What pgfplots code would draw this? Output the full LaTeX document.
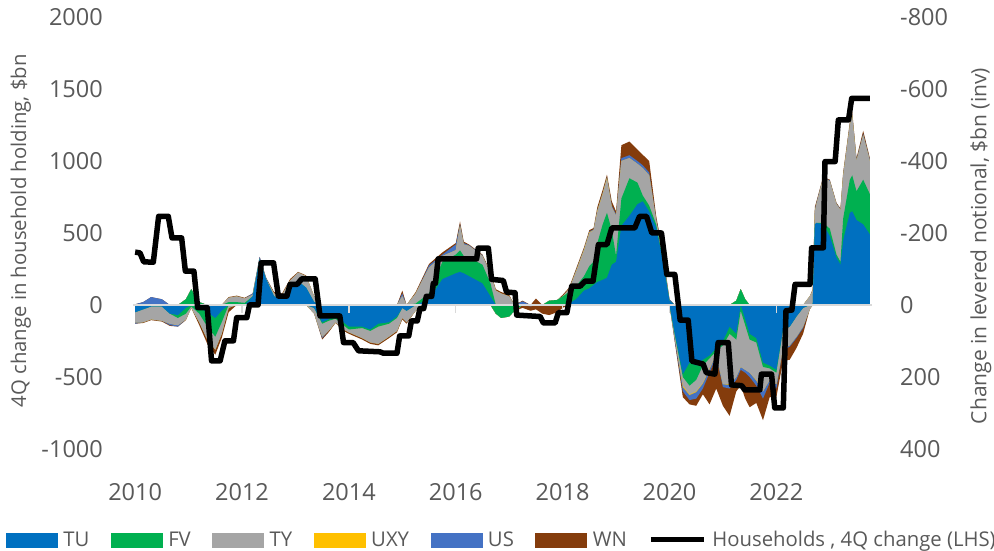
\documentclass[border=0pt]{standalone}
\usepackage{pgfplots}
\pgfplotsset{compat=1.18}
\usepgfplotslibrary{fillbetween}
\usepackage{pgfplotstable}
\usepackage{fontspec}
\setmainfont{Open Sans}
\definecolor{cTU}{HTML}{0070C0}
\definecolor{cFV}{HTML}{00B050}
\definecolor{cTY}{HTML}{A5A5A5}
\definecolor{cUXY}{HTML}{FFC000}
\definecolor{cUS}{HTML}{4472C4}
\definecolor{cWN}{HTML}{843C0C}
\definecolor{txt}{HTML}{595959}
\definecolor{zero}{HTML}{D9D9D9}

% cumulative band edges (LHS units): P = positive side, N = negative side
\pgfplotstableread{
t P1 P2 P3 P4 P5 P6 N1 N2 N3 N4 N5 N6
2010.00 0 0 0 0 5 5 -50 -50 -120 -120 -130 -130
2010.15 0 0 0 0 20 20 -30 -30 -120 -120 -120 -125
2010.30 0 0 0 0 55 55 -10 -10 -100 -100 -100 -105
2010.50 0 0 0 0 40 40 -10 -10 -110 -110 -110 -115
2010.65 0 0 0 0 0 0 -60 -60 -130 -130 -140 -145
2010.80 0 0 0 0 0 0 -70 -90 -140 -140 -150 -150
2010.95 0 40 40 40 40 40 -20 -60 -100 -100 -100 -105
2011.05 0 110 110 110 110 110 0 -10 -20 -20 -20 -20
2011.20 0 20 20 20 20 20 -20 -60 -120 -120 -120 -140
2011.35 0 0 0 0 0 0 -50 -150 -240 -240 -240 -270
2011.50 0 0 0 0 0 0 -90 -220 -310 -310 -310 -345
2011.62 0 0 0 0 0 0 -40 -120 -200 -200 -200 -230
2011.75 0 20 50 50 50 55 0 0 -20 -20 -20 -50
2011.90 0 20 60 60 60 65 0 0 0 0 0 0
2012.05 0 15 45 45 45 50 0 0 0 0 0 0
2012.20 60 60 70 70 80 80 0 0 0 0 0 0
2012.33 320 320 320 320 335 335 0 0 0 0 0 0
2012.45 180 180 180 180 190 190 0 0 0 0 0 0
2012.60 60 60 80 80 80 90 0 0 0 0 0 0
2012.75 40 45 70 70 70 80 0 0 0 0 0 0
2012.90 110 110 170 170 170 180 0 0 0 0 0 0
2013.05 165 165 225 225 225 230 0 0 0 0 0 0
2013.20 120 120 200 200 200 205 0 0 0 0 0 0
2013.35 20 20 60 60 60 60 -20 -20 -60 -60 -60 -60
2013.50 0 0 0 0 0 0 -120 -130 -220 -220 -230 -240
2013.62 0 0 0 0 0 0 -100 -110 -180 -180 -180 -190
2013.75 0 0 0 0 0 0 -80 -95 -120 -120 -120 -125
2013.90 0 0 0 0 0 0 -120 -140 -170 -170 -170 -180
2014.00 0 0 0 0 0 0 -150 -170 -190 -190 -190 -200
2014.25 0 0 0 0 0 0 -150 -160 -230 -230 -230 -240
2014.40 0 0 0 0 0 0 -170 -180 -260 -260 -260 -270
2014.55 0 0 0 0 0 0 -130 -150 -270 -270 -270 -280
2014.75 0 0 0 0 0 0 -120 -130 -220 -220 -220 -230
2014.90 0 0 0 0 0 0 -80 -90 -180 -180 -180 -190
2015.00 0 0 60 60 80 100 -20 -20 -90 -90 -90 -100
2015.08 0 0 0 0 0 0 -40 -40 -120 -120 -120 -130
2015.25 0 10 80 80 80 90 0 0 -40 -40 -40 -40
2015.50 40 80 260 260 275 285 0 0 0 0 0 0
2015.75 180 300 340 340 350 365 0 0 0 0 0 0
2016.00 220 350 380 380 420 430 0 0 0 0 0 0
2016.08 230 380 550 550 560 580 0 0 0 0 0 0
2016.15 220 340 420 420 430 440 0 0 0 0 0 0
2016.25 200 330 410 410 415 420 0 0 0 0 0 0
2016.50 150 280 340 340 345 350 0 0 0 0 0 0
2016.65 60 150 220 220 220 230 0 0 0 0 0 0
2016.75 0 0 100 100 100 110 0 -60 -60 -60 -60 -60
2016.85 0 0 80 80 80 90 0 -90 -90 -90 -90 -90
2017.00 0 0 60 60 60 70 0 -80 -80 -80 -80 -80
2017.10 0 0 0 0 0 0 0 -40 -40 -40 -40 -40
2017.25 0 0 0 0 25 30 0 0 0 0 0 -20
2017.40 0 0 0 0 0 0 0 0 0 0 -10 -40
2017.50 0 0 0 0 0 45 0 0 0 0 0 -30
2017.62 0 0 0 0 0 0 0 0 0 0 0 -60
2017.75 0 30 30 30 30 30 0 0 0 0 0 -70
2017.90 0 35 35 35 35 35 0 0 0 0 0 -50
2018.00 0 60 60 60 60 70 0 0 0 0 0 -20
2018.12 10 90 110 110 110 120 0 0 0 0 0 0
2018.25 40 130 230 235 240 250 0 0 0 0 0 0
2018.40 100 200 380 385 390 400 0 0 0 0 0 0
2018.50 115 270 500 505 510 520 0 0 0 0 0 0
2018.58 140 300 520 520 525 535 0 0 0 0 0 0
2018.65 160 430 650 655 660 680 0 0 0 0 0 0
2018.75 175 560 770 775 780 800 0 0 0 0 0 0
2018.83 190 640 880 885 890 905 0 0 0 0 0 0
2018.92 280 520 680 680 690 720 0 0 0 0 0 0
2019.00 300 340 620 620 630 650 0 0 0 0 0 0
2019.10 550 740 1000 1000 1020 1110 0 0 0 0 0 0
2019.25 620 880 1020 1020 1040 1135 0 0 0 0 0 0
2019.40 700 850 980 980 1000 1080 0 0 0 0 0 0
2019.50 720 760 950 950 970 1043 0 0 0 0 0 0
2019.62 650 690 900 900 920 1000 0 0 0 0 0 0
2019.75 540 560 590 590 600 620 0 0 0 0 0 0
2019.88 300 310 330 330 340 360 0 0 0 0 0 0
2020.00 30 30 30 30 40 40 0 0 0 0 0 0
2020.10 0 0 0 0 0 0 -200 -210 -230 -230 -250 -260
2020.25 0 0 0 0 0 0 -480 -500 -560 -570 -600 -640
2020.375 0 0 0 0 0 0 -400 -560 -620 -625 -660 -690
2020.50 0 0 0 0 0 0 -420 -520 -600 -605 -650 -700
2020.625 0 0 0 0 0 0 -380 -420 -540 -545 -580 -620
2020.75 0 0 0 0 0 0 -350 -370 -440 -445 -470 -690
2020.875 0 0 0 0 0 0 -300 -320 -340 -340 -360 -580
2021.00 0 0 0 0 0 0 -250 -280 -550 -550 -570 -700
2021.125 0 0 0 0 0 0 -150 -200 -550 -555 -580 -770
2021.25 0 30 30 30 30 30 -200 -240 -500 -500 -520 -600
2021.333 0 110 110 110 110 110 0 -40 -430 -430 -450 -560
2021.417 0 40 40 40 40 40 -100 -140 -450 -450 -470 -650
2021.50 0 0 0 0 0 0 -200 -240 -470 -470 -500 -710
2021.625 0 0 0 0 0 0 -230 -260 -520 -525 -560 -680
2021.75 0 0 0 0 0 0 -400 -430 -600 -600 -650 -800
2021.875 0 0 0 0 0 0 -420 -440 -520 -520 -540 -640
2022.00 0 0 0 0 0 0 -450 -470 -550 -550 -580 -640
2022.125 0 0 0 0 0 0 -170 -170 -300 -300 -310 -390
2022.25 0 0 0 0 0 0 -150 -150 -280 -280 -290 -380
2022.375 0 0 0 0 0 0 -80 -80 -220 -220 -230 -300
2022.50 0 0 0 0 0 0 -20 -20 -150 -150 -160 -200
2022.625 0 0 60 60 60 60 0 0 -30 -30 -30 -30
2022.68 0 0 100 100 100 110 0 0 0 0 0 0
2022.72 560 560 650 650 660 680 0 0 0 0 0 0
2022.75 570 570 700 700 710 720 0 0 0 0 0 0
2022.875 560 570 880 880 885 890 0 0 0 0 0 0
2023.00 480 530 860 860 865 870 0 0 0 0 0 0
2023.125 330 350 700 700 705 710 0 0 0 0 0 0
2023.20 280 300 660 660 665 670 0 0 0 0 0 0
2023.25 450 600 900 900 905 920 0 0 0 0 0 0
2023.375 640 870 1250 1250 1255 1270 0 0 0 0 0 0
2023.42 650 900 1320 1320 1325 1340 0 0 0 0 0 0
2023.50 590 790 1000 1000 1010 1020 0 0 0 0 0 0
2023.625 560 870 1180 1180 1190 1210 0 0 0 0 0 0
2023.75 490 770 1000 1000 1010 1020 0 0 0 0 0 0
}\areas

\pgfplotstableread{
t v
2010.00 367
2010.09 362
2010.16 300
2010.34 297
2010.44 616
2010.62 616
2010.69 466
2010.87 466
2010.94 235
2011.10 235
2011.17 -18
2011.35 -18
2011.43 -388
2011.59 -388
2011.68 -249
2011.84 -249
2011.90 -88
2012.09 -88
2012.14 0
2012.30 0
2012.36 293
2012.59 293
2012.68 62
2012.84 62
2012.90 143
2013.03 143
2013.12 182
2013.37 182
2013.46 -76
2013.83 -76
2013.90 -261
2014.08 -261
2014.18 -318
2014.58 -325
2014.65 -335
2014.90 -335
2014.95 -215
2015.12 -215
2015.17 -111
2015.28 -111
2015.33 -25
2015.40 -25
2015.45 60
2015.55 60
2015.58 150
2015.62 150
2015.67 320
2016.39 320
2016.42 395
2016.61 395
2016.67 178
2016.89 170
2016.95 90
2017.11 85
2017.14 -70
2017.58 -80
2017.64 -125
2017.86 -125
2017.92 -53
2018.08 -53
2018.17 131
2018.33 131
2018.42 166
2018.57 166
2018.67 420
2018.83 420
2018.92 535
2019.35 535
2019.44 616
2019.57 616
2019.67 500
2019.85 500
2019.95 212
2020.10 212
2020.20 -105
2020.35 -105
2020.42 -390
2020.63 -410
2020.69 -470
2020.85 -480
2020.91 -261
2021.10 -261
2021.16 -555
2021.35 -560
2021.41 -590
2021.69 -590
2021.72 -480
2021.91 -480
2021.97 -715
2022.13 -715
2022.18 -40
2022.29 -35
2022.35 143
2022.63 143
2022.66 397
2022.88 397
2022.91 996
2023.10 996
2023.16 1285
2023.35 1285
2023.41 1435
2023.75 1435
}\hh

\begin{document}
\begin{tikzpicture}
\begin{axis}[
  name=main, at={(0,0)}, anchor=south west,
  scale only axis, width=739bp, height=432bp,
  xmin=2009.96, xmax=2023.79, ymin=-1000, ymax=2000,
  axis x line*=bottom, axis y line*=left,
  axis line style={draw=none}, major tick length=0pt,
  xtick={2010,2012,2014,2016,2018,2020,2022},
  xticklabels={2010,2012,2014,2016,2018,2020,2022},
  ytick={-1000,-500,0,500,1000,1500,2000},
  yticklabels={-1000,-500,0,500,1000,1500,2000},
  tick label style={font=\fontsize{23.5bp}{28bp}\selectfont, text=txt, inner sep=0pt},
  xticklabel style={anchor=center, yshift=-43bp},
  yticklabel style={anchor=east, xshift=-30bp},
  ylabel={4Q change in household holding, \$bn},
  ylabel style={at={(axis description cs:-0.1516,0.505)}, anchor=center, font=\fontsize{20.3bp}{25bp}\selectfont, text=txt, inner sep=0pt},
  legend columns=7,
  legend style={at={(axis description cs:-0.1719,-0.2106)}, anchor=west, draw=none, fill=none,
    font=\fontsize{20.3bp}{24bp}\selectfont, text=txt, inner sep=0pt, outer sep=0pt,
    nodes={inner sep=0pt},
    /tikz/every even column/.append style={column sep=21.5bp},
    /tikz/every odd column/.append style={column sep=6bp}},
]
\addlegendimage{legend image code/.code={\fill[cTU] (0bp,-7bp) rectangle (51bp,7bp);}}
\addlegendentry{TU}
\addlegendimage{legend image code/.code={\fill[cFV] (0bp,-7bp) rectangle (51bp,7bp);}}
\addlegendentry{FV}
\addlegendimage{legend image code/.code={\fill[cTY] (0bp,-7bp) rectangle (51bp,7bp);}}
\addlegendentry{TY}
\addlegendimage{legend image code/.code={\fill[cUXY] (0bp,-7bp) rectangle (51bp,7bp);}}
\addlegendentry{UXY}
\addlegendimage{legend image code/.code={\fill[cUS] (0bp,-7bp) rectangle (51bp,7bp);}}
\addlegendentry{US}
\addlegendimage{legend image code/.code={\fill[cWN] (0bp,-7bp) rectangle (51bp,7bp);}}
\addlegendentry{WN}
\addlegendimage{legend image code/.code={\draw[black, line width=5bp] (0bp,0bp) -- (53bp,0bp);}}
\addlegendentry{Households , 4Q change (LHS)}

\addplot[draw=zero, line width=1.5bp, forget plot] coordinates {(2009.96,0) (2023.79,0)};
\foreach \yr in {2012,2014,2016,2018,2020,2022}{
  \edef\tmp{\noexpand\draw[zero, line width=1.5bp] (axis cs:\yr,0) -- ++(0bp,-8bp);}\tmp
}

\addplot[draw=none, name path=P1, forget plot] table[x=t, y=P1] {\areas};
\addplot[draw=none, name path=P2, forget plot] table[x=t, y=P2] {\areas};
\addplot[draw=none, name path=P3, forget plot] table[x=t, y=P3] {\areas};
\addplot[draw=none, name path=P4, forget plot] table[x=t, y=P4] {\areas};
\addplot[draw=none, name path=P5, forget plot] table[x=t, y=P5] {\areas};
\addplot[draw=none, name path=P6, forget plot] table[x=t, y=P6] {\areas};
\addplot[draw=none, name path=N1, forget plot] table[x=t, y=N1] {\areas};
\addplot[draw=none, name path=N2, forget plot] table[x=t, y=N2] {\areas};
\addplot[draw=none, name path=N3, forget plot] table[x=t, y=N3] {\areas};
\addplot[draw=none, name path=N4, forget plot] table[x=t, y=N4] {\areas};
\addplot[draw=none, name path=N5, forget plot] table[x=t, y=N5] {\areas};
\addplot[draw=none, name path=N6, forget plot] table[x=t, y=N6] {\areas};

\addplot[fill=cWN, draw=none, forget plot] fill between[of=P6 and N6];
\addplot[fill=cUS, draw=none, forget plot] fill between[of=P5 and N5];
\addplot[fill=cUXY, draw=none, forget plot] fill between[of=P4 and N4];
\addplot[fill=cTY, draw=none, forget plot] fill between[of=P3 and N3];
\addplot[fill=cFV, draw=none, forget plot] fill between[of=P2 and N2];
\addplot[fill=cTU, draw=none, forget plot] fill between[of=P1 and N1];

\addplot[black, line width=5.5bp, line join=round, forget plot] table[x=t, y=v] {\hh};
\end{axis}
\begin{axis}[
  at={(0,0)}, anchor=south west,
  scale only axis, width=739bp, height=432bp,
  xmin=2009.96, xmax=2023.79, ymin=-800, ymax=400, y dir=reverse,
  axis x line=none, axis y line*=right,
  axis line style={draw=none}, major tick length=0pt,
  ytick={-800,-600,-400,-200,0,200,400},
  yticklabels={-800,-600,-400,-200,0,200,400},
  tick label style={font=\fontsize{23.5bp}{28bp}\selectfont, text=txt, inner sep=0pt},
  yticklabel style={anchor=west, xshift=28bp},
  ylabel={Change in levered notional, \$bn (inv)},
  ylabel style={at={(axis description cs:1.1475,0.470)}, anchor=center, rotate=0, font=\fontsize{21bp}{26bp}\selectfont, text=txt, inner sep=0pt},
]
\end{axis}
\pgfresetboundingbox
\useasboundingbox (-133bp,-102bp) rectangle (861bp,449bp);
\end{tikzpicture}
\end{document}
